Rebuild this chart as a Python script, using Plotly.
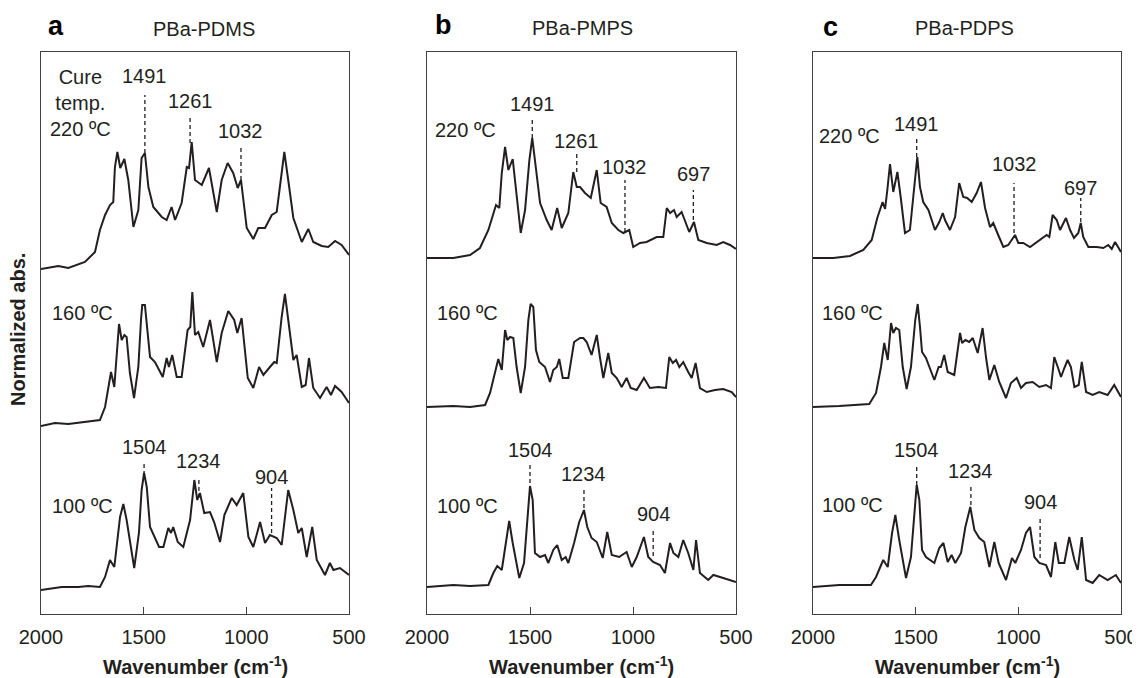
import plotly.graph_objects as go

# page is rendered with an 8px body margin: the figure is sized/shifted to compensate
OX, OY = 8, 8
W, H = 1140 - OX, 678 - OY

# ---------------- data (wavenumber in cm-1, normalized absorbance) ----------------
a220_wn = [2000,1916,1867,1786,1737,1713,1688,1664,1648,1640,1628,1614,1594,1575,1550,1526,1510,1494,1477,1453,1412,1388,1364,1347,1315,1290,1279,1266,1250,1217,1182,1144,1120,1091,1064,1042,1026,998,966,942,909,876,852,836,815,796,771,730,698,674,633,601,568,536,500]
a220_ab = [-0.01,0.02,0.00,0.06,0.16,0.38,0.53,0.63,0.66,1.01,1.16,1.00,1.09,0.88,0.41,0.58,1.10,1.15,0.81,0.61,0.51,0.48,0.61,0.48,0.65,1.01,1.00,1.26,0.88,0.83,1.00,0.56,0.88,1.05,0.95,0.80,0.88,0.40,0.29,0.40,0.40,0.53,0.56,0.81,1.16,0.88,0.50,0.26,0.39,0.26,0.22,0.21,0.27,0.23,0.13]
a160_wn = [2000,1932,1867,1786,1713,1688,1672,1659,1643,1631,1620,1607,1594,1583,1567,1547,1526,1513,1507,1494,1480,1469,1445,1407,1388,1377,1361,1339,1315,1286,1273,1263,1250,1234,1210,1177,1144,1120,1088,1059,1044,1023,993,966,938,917,885,864,852,828,812,792,771,755,730,711,695,674,641,609,588,568,536,500]
a160_ab = [-0.02,0.01,0.00,0.02,0.04,0.17,0.37,0.52,0.37,0.74,1.00,0.84,0.89,0.87,0.51,0.26,0.57,1.04,1.19,1.19,0.91,0.67,0.62,0.47,0.66,0.57,0.69,0.47,0.47,0.94,0.97,1.32,0.89,0.92,0.77,1.04,0.62,0.91,1.13,1.04,0.91,1.06,0.46,0.36,0.57,0.49,0.57,0.62,0.61,1.07,1.30,0.97,0.64,0.69,0.37,0.39,0.66,0.36,0.26,0.37,0.29,0.38,0.32,0.21]
a100_wn = [2000,1899,1818,1770,1713,1688,1664,1643,1615,1599,1583,1546,1523,1510,1498,1485,1469,1448,1425,1404,1380,1367,1356,1334,1307,1274,1253,1239,1226,1205,1177,1157,1128,1107,1071,1047,1015,990,966,933,909,885,852,828,796,771,747,730,706,679,657,617,593,576,544,500]
a100_ab = [-0.03,0.00,0.00,0.01,0.00,0.10,0.27,0.20,0.70,0.83,0.67,0.19,0.54,0.97,1.14,1.00,0.60,0.50,0.40,0.40,0.59,0.54,0.60,0.45,0.40,0.67,1.07,0.87,0.94,0.74,0.75,0.65,0.45,0.72,0.89,0.82,0.94,0.50,0.40,0.65,0.44,0.52,0.49,0.42,0.97,0.77,0.54,0.59,0.30,0.60,0.27,0.12,0.24,0.17,0.19,0.12]

b220_wn = [2000,1969,1872,1791,1743,1702,1665,1649,1637,1621,1605,1584,1565,1545,1524,1503,1489,1472,1451,1419,1395,1368,1346,1314,1290,1273,1257,1233,1205,1176,1157,1128,1103,1071,1047,1018,999,966,934,885,853,836,820,801,788,764,748,727,704,683,642,594,562,529,500]
b220_ab = [0.00,0.00,0.00,0.03,0.10,0.28,0.53,0.50,0.85,1.11,0.88,0.99,0.65,0.25,0.48,0.98,1.20,0.88,0.55,0.38,0.28,0.50,0.30,0.45,0.86,0.71,0.71,0.65,0.60,0.88,0.55,0.51,0.35,0.28,0.25,0.28,0.11,0.15,0.16,0.21,0.21,0.50,0.45,0.48,0.41,0.46,0.38,0.26,0.36,0.18,0.15,0.13,0.16,0.13,0.09]
b160_wn = [2000,1872,1791,1718,1694,1670,1654,1637,1621,1610,1597,1581,1565,1545,1524,1508,1497,1484,1471,1455,1427,1403,1387,1370,1358,1341,1314,1286,1270,1257,1241,1225,1201,1176,1160,1144,1120,1103,1079,1055,1031,1011,982,947,918,877,840,824,807,791,775,756,732,715,696,675,642,602,562,521,500]
b160_ab = [-0.01,0.00,-0.01,0.01,0.13,0.34,0.47,0.36,0.76,0.66,0.69,0.68,0.39,0.13,0.39,0.86,1.02,0.99,0.56,0.44,0.39,0.24,0.36,0.39,0.47,0.28,0.28,0.64,0.66,0.68,0.68,0.64,0.51,0.71,0.48,0.28,0.53,0.33,0.28,0.19,0.28,0.18,0.16,0.28,0.18,0.19,0.18,0.49,0.43,0.46,0.39,0.44,0.34,0.28,0.43,0.18,0.14,0.16,0.17,0.14,0.09]
b100_wn = [2000,1872,1791,1702,1678,1659,1637,1617,1601,1584,1552,1529,1513,1500,1487,1476,1451,1427,1411,1387,1368,1346,1327,1314,1286,1261,1238,1222,1201,1176,1147,1125,1103,1067,1031,1006,982,947,926,902,869,845,820,804,780,756,732,707,694,675,635,610,562,500]
b100_ab = [-0.01,0.01,0.00,0.01,0.13,0.20,0.16,0.46,0.65,0.43,0.08,0.23,0.69,1.00,0.86,0.33,0.29,0.31,0.23,0.36,0.41,0.26,0.29,0.23,0.43,0.64,0.76,0.59,0.48,0.44,0.28,0.54,0.31,0.29,0.34,0.19,0.29,0.49,0.29,0.24,0.21,0.13,0.43,0.33,0.29,0.46,0.33,0.16,0.46,0.13,0.06,0.11,0.08,0.04]

c220_wn = [2000,1901,1820,1755,1714,1687,1661,1649,1638,1625,1609,1589,1573,1552,1528,1503,1492,1479,1463,1438,1406,1385,1368,1357,1333,1308,1288,1268,1249,1227,1203,1182,1162,1138,1122,1098,1073,1049,1016,1000,976,943,911,862,849,833,813,797,768,748,729,708,696,684,659,618,586,562,545,529,500]
c220_ab = [0.00,0.00,0.02,0.08,0.18,0.40,0.56,0.49,0.68,0.94,0.66,0.86,0.61,0.25,0.28,0.81,1.01,0.71,0.56,0.48,0.28,0.36,0.45,0.38,0.28,0.41,0.75,0.61,0.60,0.56,0.65,0.76,0.50,0.31,0.35,0.23,0.11,0.13,0.23,0.15,0.15,0.11,0.16,0.23,0.21,0.43,0.38,0.28,0.40,0.28,0.20,0.25,0.35,0.21,0.11,0.11,0.10,0.13,0.09,0.16,0.06]
c160_wn = [2000,1872,1726,1693,1669,1653,1636,1620,1609,1596,1580,1563,1544,1523,1502,1490,1479,1469,1450,1430,1409,1388,1377,1361,1344,1312,1284,1274,1258,1239,1222,1198,1174,1157,1141,1117,1093,1060,1036,1008,987,963,930,898,865,841,825,808,792,776,760,744,727,706,691,670,638,606,565,533,500]
c160_ab = [-0.01,0.00,0.02,0.13,0.39,0.63,0.46,0.83,0.73,0.78,0.76,0.39,0.17,0.39,0.86,1.02,0.79,0.54,0.48,0.38,0.26,0.39,0.39,0.51,0.34,0.31,0.73,0.63,0.66,0.64,0.68,0.53,0.78,0.48,0.26,0.41,0.24,0.08,0.23,0.28,0.18,0.23,0.24,0.19,0.21,0.18,0.49,0.39,0.29,0.38,0.46,0.39,0.19,0.21,0.44,0.14,0.11,0.14,0.11,0.21,0.09]
c100_wn = [2000,1872,1718,1693,1658,1636,1615,1599,1580,1547,1523,1507,1495,1482,1469,1450,1430,1409,1385,1365,1344,1325,1307,1279,1258,1234,1214,1190,1166,1141,1117,1096,1060,1031,1015,987,963,943,922,898,865,841,820,803,776,752,727,711,691,670,638,606,565,525,500]
c100_ab = [-0.02,0.00,0.00,0.08,0.25,0.18,0.52,0.70,0.45,0.07,0.28,0.68,1.00,0.85,0.35,0.28,0.25,0.22,0.37,0.42,0.23,0.30,0.22,0.32,0.58,0.78,0.55,0.47,0.43,0.18,0.43,0.22,0.05,0.27,0.22,0.35,0.52,0.58,0.28,0.22,0.20,0.08,0.43,0.22,0.22,0.48,0.25,0.15,0.48,0.05,0.02,0.10,0.05,0.10,0.02]

# vertical stacking offsets (220, 160, 100 ºC)
offsets_a = [3.46, 1.90, 0.27]
offsets_b = [3.56, 2.08, 0.28]
offsets_c = [3.56, 2.08, 0.29]

panel_titles = ["PBa-PDMS", "PBa-PMPS", "PBa-PDPS"]
panel_letters = ["a", "b", "c"]
x_ticks = [2000, 1500, 1000, 500]

# curve labels: (text, wavenumber, y)
labels_a = [("Cure<br>temp.<br>220 ºC", 1810, 5.11), ("160 ºC", 1800, 3.01), ("100 ºC", 1800, 1.08)]
labels_b = [("220 ºC", 1811, 4.84), ("160 ºC", 1801, 3.01), ("100 ºC", 1801, 1.08)]
labels_c = [("220 ºC", 1820, 4.78), ("160 ºC", 1810, 3.01), ("100 ºC", 1810, 1.09)]

# peak markers: (label, wavenumber, line top, line bottom, text y)
peaks_a = [("1491", 1494, 5.19, 4.61, 5.38), ("1261", 1274, 4.96, 4.71, 5.13),
           ("1032", 1026, 4.66, 4.34, 4.83), ("1504", 1498, 1.51, 1.39, 1.67),
           ("1234", 1231, 1.37, 1.16, 1.53), ("904", 877, 1.26, 0.81, 1.37)]
peaks_b = [("1491", 1489, 4.97, 4.76, 5.10), ("1261", 1273, 4.61, 4.42, 4.73),
           ("1032", 1039, 4.34, 3.82, 4.47), ("697", 707, 4.24, 3.94, 4.40),
           ("1504", 1500, 1.49, 1.31, 1.64), ("1234", 1238, 1.24, 1.06, 1.40),
           ("904", 902, 0.84, 0.58, 1.00)]
peaks_c = [("1491", 1495, 4.77, 4.57, 4.90), ("1032", 1021, 4.31, 3.81, 4.50),
           ("697", 696, 4.16, 3.92, 4.26), ("1504", 1495, 1.47, 1.29, 1.64),
           ("1234", 1231, 1.27, 1.09, 1.43), ("904", 894, 0.96, 0.56, 1.12)]

# ---------------- figure ----------------
FONT = "Arial, Liberation Sans, Helvetica, sans-serif"
INK = "#231f20"
FRAME = "#404040"


def px(x):
    return (x - OX) / W


def py(y):
    return 1 - (y - OY) / H


panels = [
    ([(a220_wn, a220_ab), (a160_wn, a160_ab), (a100_wn, a100_ab)], offsets_a, labels_a, peaks_a),
    ([(b220_wn, b220_ab), (b160_wn, b160_ab), (b100_wn, b100_ab)], offsets_b, labels_b, peaks_b),
    ([(c220_wn, c220_ab), (c160_wn, c160_ab), (c100_wn, c100_ab)], offsets_c, labels_c, peaks_c),
]

# plot-area boxes in page pixels (left, right) and common top/bottom
x_boxes = [(41, 349), (427, 736), (813, 1121)]
y_top, y_bot = 52, 614

fig = go.Figure()
annotations = []
shapes = []

for i, (curves, offs, labs, peaks) in enumerate(panels):
    xa = "x" if i == 0 else f"x{i+1}"
    ya = "y" if i == 0 else f"y{i+1}"
    for (wn, ab), off in zip(curves, offs):
        fig.add_trace(go.Scatter(x=wn, y=[v + off for v in ab], mode="lines",
                                 line=dict(color=INK, width=2), xaxis=xa, yaxis=ya,
                                 showlegend=False, hoverinfo="skip"))
    for text, xw, yv in labs:
        annotations.append(dict(x=xw, y=yv, xref=xa, yref=ya, text=text, showarrow=False,
                                font=dict(family=FONT, size=20, color=INK),
                                xanchor="center", yanchor="middle", align="center"))
    for text, xw, ytop, ybot, ytxt in peaks:
        shapes.append(dict(type="line", x0=xw, x1=xw, y0=ybot, y1=ytop, xref=xa, yref=ya,
                           line=dict(color=INK, width=1.3, dash="4px,3px")))
        annotations.append(dict(x=xw, y=ytxt, xref=xa, yref=ya, text=text, showarrow=False,
                                font=dict(family=FONT, size=20, color=INK),
                                xanchor="center", yanchor="middle"))

    l, r = x_boxes[i]
    axis_common = dict(showline=True, linecolor=FRAME, linewidth=1, mirror=True,
                       showgrid=False, zeroline=False, automargin=False)
    fig.layout[f"xaxis{'' if i == 0 else i+1}"] = dict(
        domain=[px(l), px(r)], range=[2000, 500], anchor=ya,
        tickvals=x_ticks, ticktext=[str(t) for t in x_ticks],
        ticks="inside", ticklen=7, tickcolor=FRAME, tickwidth=1,
        ticklabelstandoff=5,
        tickfont=dict(family=FONT, size=20, color=INK), **axis_common)
    fig.layout[f"yaxis{'' if i == 0 else i+1}"] = dict(
        domain=[py(y_bot), py(y_top)], range=[0, 5.62], anchor=xa,
        showticklabels=False, ticks="", **axis_common)

    cx = (l + r) / 2
    annotations.append(dict(x=px(cx), y=py(665), xref="paper", yref="paper",
                            text="<b>Wavenumber (cm<sup>-1</sup>)</b>", showarrow=False,
                            font=dict(family=FONT, size=20, color=INK),
                            xanchor="center", yanchor="middle"))

# panel letters and titles
letter_pos = [(56, 26), (443, 25), (830, 27)]
title_pos = [(204, 29), (583, 28), (964, 28)]
for (lx, ly), letter in zip(letter_pos, panel_letters):
    annotations.append(dict(x=px(lx), y=py(ly), xref="paper", yref="paper", text=f"<b>{letter}</b>",
                            showarrow=False, font=dict(family=FONT, size=27, color="#000"),
                            xanchor="center", yanchor="middle"))
for (tx, ty), t in zip(title_pos, panel_titles):
    annotations.append(dict(x=px(tx), y=py(ty), xref="paper", yref="paper", text=t,
                            showarrow=False, font=dict(family=FONT, size=20, color=INK),
                            xanchor="center", yanchor="middle"))

annotations.append(dict(x=px(18), y=py(330), xref="paper", yref="paper",
                        text="<b>Normalized abs.</b>", textangle=-90, showarrow=False,
                        font=dict(family=FONT, size=20, color=INK),
                        xanchor="center", yanchor="middle"))

fig.update_layout(width=W, height=H, margin=dict(l=0, r=0, t=0, b=0, pad=0, autoexpand=False),
                  paper_bgcolor="white", plot_bgcolor="white",
                  annotations=annotations, shapes=shapes, showlegend=False)

fig.write_html("out.html")
